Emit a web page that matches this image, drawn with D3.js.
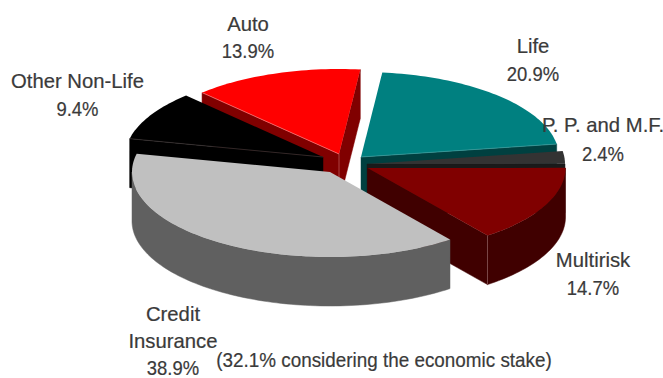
<!DOCTYPE html>
<html>
<head>
<meta charset="utf-8">
<script src="https://cdnjs.cloudflare.com/ajax/libs/d3/7.8.5/d3.min.js"></script>
<style>
html, body { margin: 0; padding: 0; background: #fff; }
svg { display: block; }
text { font-family: "Liberation Sans Narrow", "Liberation Sans", sans-serif; font-size: 20.3px; font-weight: 400; fill: #3a3a3a; stroke: #3a3a3a; stroke-width: 0.2px; text-anchor: middle; }
</style>
</head>
<body>
<svg id="chart" width="663" height="378"></svg>
<script>
// Portfolio shares, clockwise from the credit insurance slice
const categories = ["Credit Insurance", "Other Non-Life", "Auto", "Life", "P. P. and M.F.", "Multirisk"];
const shares = [38.9, 9.4, 13.9, 20.9, 2.4, 14.7];
const topColors = ["#c0c0c0", "#000000", "#ff0000", "#008080", "#333333", "#800000"];
const sideColors = ["#606060", "#000000", "#800000", "#004040", "#1a1a1a", "#400000"];

// Where each exploded slice has its apex
const apexX = [330, 323, 339, 361, 367, 367.5];
const apexY = [172, 157, 154, 157, 164, 168];
// Back-to-front painting order (indices into categories)
const paintOrder = [2, 1, 3, 4, 5, 0];

const labelLines = [
  ["Credit", "Insurance", "38.9%"],
  ["Other Non-Life", "9.4%"],
  ["Auto", "13.9%"],
  ["Life", "20.9%"],
  ["P. P. and M.F.", "2.4%"],
  ["Multirisk", "14.7%"]
];
const labelX = [173, 77.5, 248, 533, 603, 593];
const labelY = [321, 88, 31, 53, 132, 267];
const labelStep = [27, 28, 27, 27.5, 29, 28];
const noteText = "(32.1% considering the economic stake)";

const radiusX = 198, radiusY = 85, depth = 49;
const startDeg = 142.7;

const svg = d3.select("#chart");
const pie = d3.pie().sort(null).startAngle(startDeg * Math.PI / 180)
  .endAngle((startDeg + 360) * Math.PI / 180);
const arcs = pie(shares);

const sx = d3.scaleLinear().domain([-1, 1]).range([-radiusX, radiusX]);
const sy = d3.scaleLinear().domain([-1, 1]).range([radiusY, -radiusY]);
const path = d3.line();

function rim(i, a, drop) {
  return [apexX[i] + sx(Math.sin(a)), apexY[i] + sy(Math.cos(a)) + (drop || 0)];
}
function rimRange(i, a0, a1, drop) {
  const n = Math.max(2, Math.ceil(Math.abs(a1 - a0) * 40));
  return d3.range(n + 1).map(k => rim(i, a0 + (a1 - a0) * k / n, drop));
}

paintOrder.forEach(i => {
  const a0 = arcs[i].startAngle, a1 = arcs[i].endAngle;
  const g = svg.append("g").attr("class", "slice");
  const apex = [apexX[i], apexY[i]];
  const apexLow = [apexX[i], apexY[i] + depth];
  const side = pts => g.append("path").attr("d", path(pts) + "Z")
    .attr("fill", sideColors[i]).attr("stroke", sideColors[i]).attr("stroke-width", 0.5);

  // Cut faces that look toward the viewer
  if (Math.sin(a0) < 0) side([apex, rim(i, a0), rim(i, a0, depth), apexLow]);
  if (Math.sin(a1) > 0) side([apex, rim(i, a1), rim(i, a1, depth), apexLow]);

  // Outer wall: only the part on the near half of the ellipse
  const turn = Math.PI * 2;
  [[Math.PI / 2, Math.PI * 1.5], [Math.PI / 2 + turn, Math.PI * 1.5 + turn]].forEach(([lo, hi]) => {
    const w0 = Math.max(a0, lo), w1 = Math.min(a1, hi);
    if (w1 > w0) side(rimRange(i, w0, w1).concat(rimRange(i, w1, w0, depth)));
  });

  // Top face
  g.append("path")
    .attr("d", path([apex].concat(rimRange(i, a0, a1))) + "Z")
    .attr("fill", topColors[i]);

  // Pale highlights along the cut edges
  const edge = (p, q, c) => g.append("path").attr("d", path([p, q]))
    .attr("stroke", c).attr("stroke-width", 0.7).attr("fill", "none");
  if (categories[i] === "Auto") {
    edge(apex, rim(i, a0), "#ff8080");
    edge(apex, apexLow, "#c06060");
  }
  if (categories[i] === "Life") edge(apex, rim(i, a1), "#40a0a0");
  if (categories[i] === "Other Non-Life") edge(apex, rim(i, a0), "#403838");
  if (categories[i] === "Multirisk") {
    edge(rim(i, a1), rim(i, a1, depth), "#906060");
  }
});

// Tighten a text horizontally without changing its height
function squeeze(sel, factor) {
  sel.attr("lengthAdjust", "spacingAndGlyphs")
    .attr("textLength", sel.node().getComputedTextLength() * factor);
}

// Category labels; percentage lines set a little tighter than the names
labelLines.forEach((lines, i) => {
  lines.forEach((line, k) => {
    const t = svg.append("text").attr("x", labelX[i]).attr("y", labelY[i] + k * labelStep[i]).text(line);
    if (line.endsWith("%")) squeeze(t, 0.91);
  });
});
squeeze(svg.append("text").attr("x", 384).attr("y", 366.5).text(noteText), 0.93);
</script>
</body>
</html>
